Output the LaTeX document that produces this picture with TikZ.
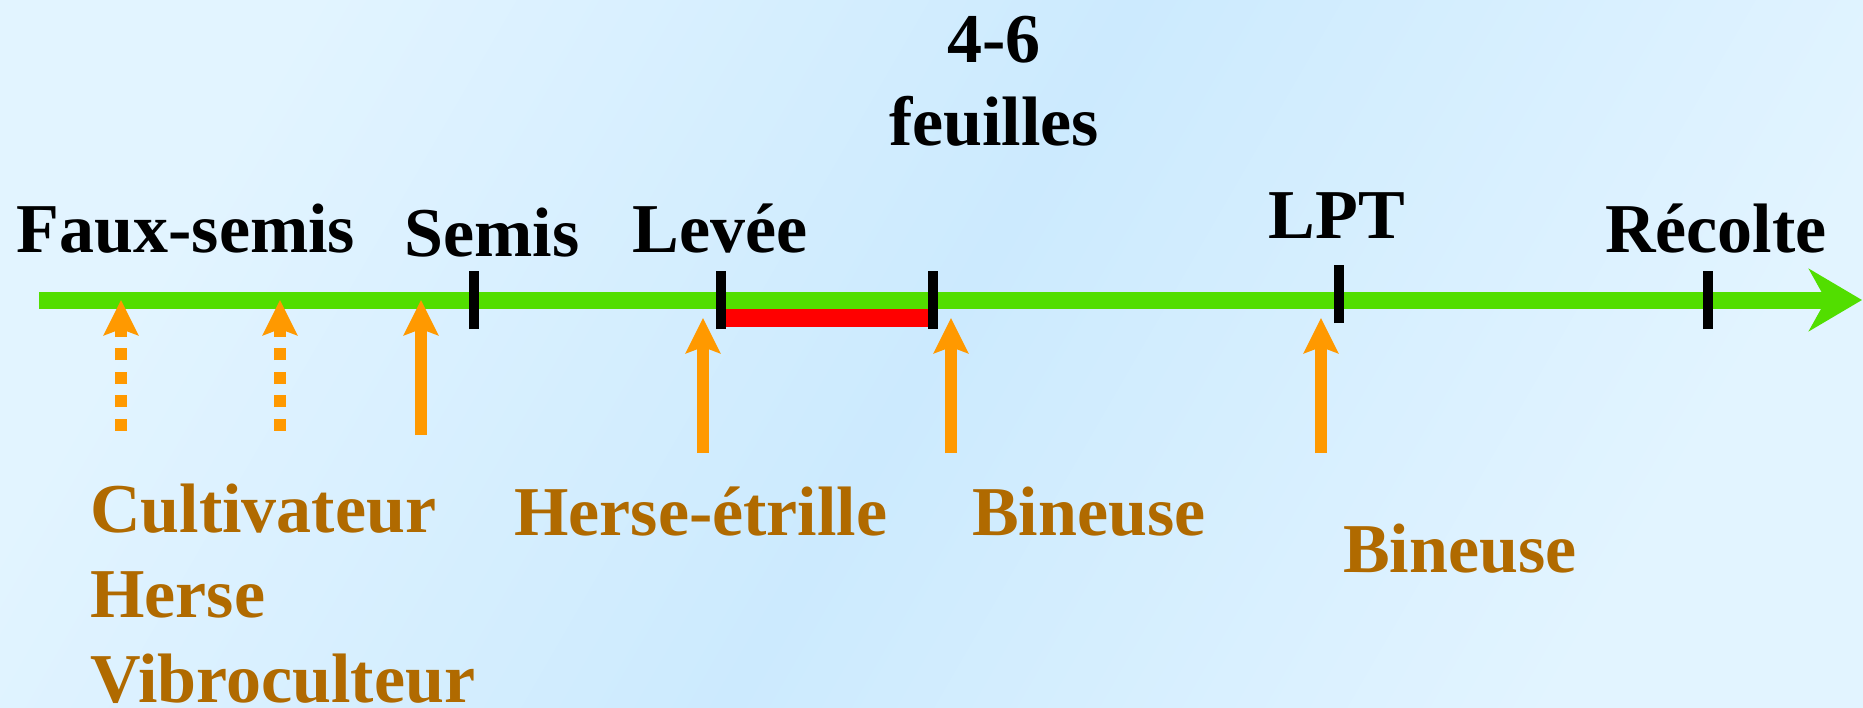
\documentclass[tikz,border=0pt]{standalone}
\usepackage{fontspec}
\setmainfont{Liberation Serif}
\usetikzlibrary{positioning,arrows.meta}
\definecolor{axisgreen}{RGB}{82,222,0}
\definecolor{toolorange}{RGB}{255,153,0}
\definecolor{toolbrown}{RGB}{176,106,0}
\definecolor{skylight}{RGB}{226,244,255}
\definecolor{skydark}{RGB}{204,234,254}
\tikzset{
  stage/.style={
    font=\bfseries\fontsize{70}{83}\selectfont,
    inner sep=0pt, anchor=base, align=center
  },
  tool/.style={
    font=\bfseries\fontsize{70}{85}\selectfont,
    text=toolbrown, inner sep=0pt, anchor=base west, align=left
  },
  stagetick/.style={line width=10pt},
  pass/.style={
    draw=toolorange, line width=11.5pt,
    -{Stealth[length=35pt,width=34pt,inset=6pt]}
  },
  fakepass/.style={pass, dash pattern=on 12pt off 11.5pt, dash phase=12pt}
}

\begin{document}
\begin{tikzpicture}[x=1pt,y=-1pt]
        \shade[top color=skylight, bottom color=skylight, middle color=skydark, shading angle=60]
          (0,0) rectangle (1863,707);
        \useasboundingbox (0,0) rectangle (1863,707);
        \coordinate (start) at (39,300);
        \coordinate (end) at (1862,300);
        \draw[axisgreen, line width=17pt, -{Stealth[length=53pt,width=62pt,inset=17pt]}] (start) -- (end);
        \coordinate (sowing) at (474,300);
        \coordinate (emergence) at (721,300);
        \coordinate (leaves) at (933,300);
        \coordinate (layby) at (1339,294);
        \coordinate (harvest) at (1708,300);
        \draw[red, line width=18pt] ([xshift=5pt,yshift=-18pt]emergence) -- ([xshift=-5pt,yshift=-18pt]leaves);
        \foreach \t in {sowing,emergence,leaves,layby,harvest}
          \draw[stagetick] ([yshift=-29pt]\t) -- ([yshift=29pt]\t);
        \node[stage] (faux) at (186,252) {Faux-semis};
        \node[stage] (semis) at (492,256) {Semis};
        \node[stage] (levee) at (720,252) {Levée};
        \node[stage] (feuilles) at (994,145) {4-6\\feuilles};
        \node[stage] (lpt) at (1337,238) {LPT};
        \node[stage] (recolte) at (1716,252) {Récolte};
        \coordinate (fsA) at (121,300);
        \coordinate (fsB) at (280,300);
        \coordinate (sw) at (421,300);
        \coordinate (hs) at (703,318);
        \coordinate (bnA) at (951,318);
        \coordinate (bnB) at (1321,318);
        \draw[fakepass] ([yshift=-142pt]fsA) -- (fsA);
        \draw[fakepass] ([yshift=-142pt]fsB) -- (fsB);
        \draw[pass] ([yshift=-135pt]sw) -- (sw);
        \draw[pass] ([yshift=-135pt]hs) -- (hs);
        \draw[pass] ([yshift=-135pt]bnA) -- (bnA);
        \draw[pass] ([yshift=-135pt]bnB) -- (bnB);
        \node[tool] (cultiv) at (90,702) {Cultivateur\\Herse\\Vibroculteur};
        \node[tool] (herse) at (514,535) {Herse-étrille};
        \node[tool] (bineA) at (972,535) {Bineuse};
        \node[tool] (bineB) at (1343,572) {Bineuse};
      \end{tikzpicture}
\end{document}
